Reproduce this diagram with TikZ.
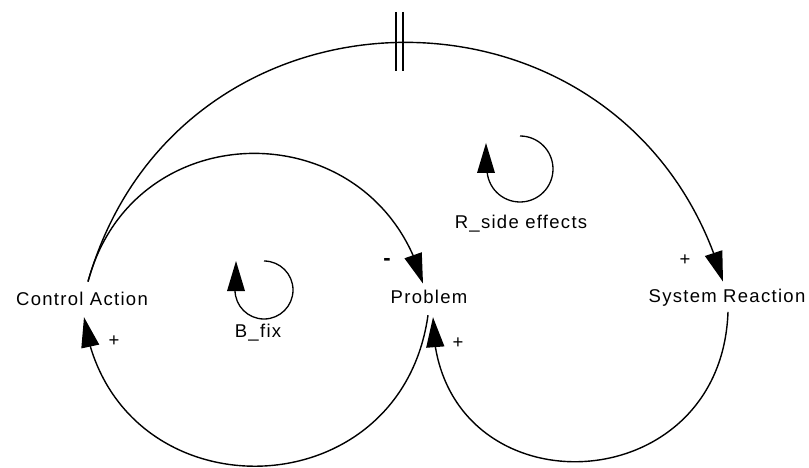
\documentclass[tikz,border=0pt]{standalone}
\usepackage{fontspec}
\setmainfont{Liberation Sans}[LetterSpace=7]
\usetikzlibrary{arrows.meta,bending}
\begin{document}
\begin{tikzpicture}[x=1pt,y=1pt,
  lbl/.style={font=\fontsize{18.5}{22}\selectfont, inner sep=0pt, outer sep=0pt},
  link/.style={line width=1.4pt, -{Triangle[length=30pt,width=18pt]}},
  loopline/.style={line width=1.3pt},
  delaymark/.style={line width=1.3pt}]
\fill[white] (0,0) rectangle (809,-468);
\useasboundingbox (0,0) rectangle (809,-468);
% variables
\node[lbl, anchor=base] (ca) at (82,-305) {Control Action};
\node[lbl, anchor=base] (pb) at (429,-303) {Problem};
\node[lbl, anchor=base] (sr) at (727,-302) {System Reaction};
% loop labels
\node[lbl, anchor=base] (bfix) at (258,-337) {B\_fix};
\node[lbl, anchor=base] (rside) at (521,-228) {R\_side effects};
% polarities
\node[lbl] (pl1) at (114,-341) {+};
\node[lbl] (pl2) at (458,-343) {+};
\node[lbl] (pl3) at (685,-260) {+};
\node[lbl, font=\fontsize{22}{24}\selectfont\bfseries] (mi) at (387,-262) {-};
% connector end points
\coordinate (caT) at ([xshift=6pt,yshift=10pt]ca.north);
\coordinate (caB) at ([xshift=2pt,yshift=-12pt]ca.south);
\coordinate (pbT) at ([xshift=-6pt,yshift=6pt]pb.north);
\coordinate (pbB1) at ([xshift=-1pt,yshift=-12pt]pb.south);
\coordinate (pbB2) at ([xshift=4pt,yshift=-14pt]pb.south);
\coordinate (srT) at ([xshift=-4pt,yshift=7pt]sr.north);
\coordinate (srB) at ([xshift=1pt,yshift=-6pt]sr.south);
% connectors
\draw[link] (caT) to[out=74,in=106,looseness=1.34] (srT);
\draw[link] (caT) to[out=75,in=105,looseness=1.36] (pbT);
\draw[link] (pbB1) to[out=262,in=278,looseness=1.5] (caB);
\draw[link] (srB) to[out=268,in=270,looseness=1.7] (pbB2);
% delay mark
\draw[delaymark] (396,-12) -- (396,-71);
\draw[delaymark] (403,-12) -- (403,-71);
% loop symbols
\draw[loopline] (264,-261) arc[start angle=90, end angle=-180, radius=29];
\fill (236,-261) -- (227,-291) -- (245,-291) -- cycle;
\draw[loopline] (520,-136) arc[start angle=90, end angle=-180, radius=33];
\fill (486,-143) -- (477,-173) -- (495,-173) -- cycle;
\end{tikzpicture}
\end{document}
